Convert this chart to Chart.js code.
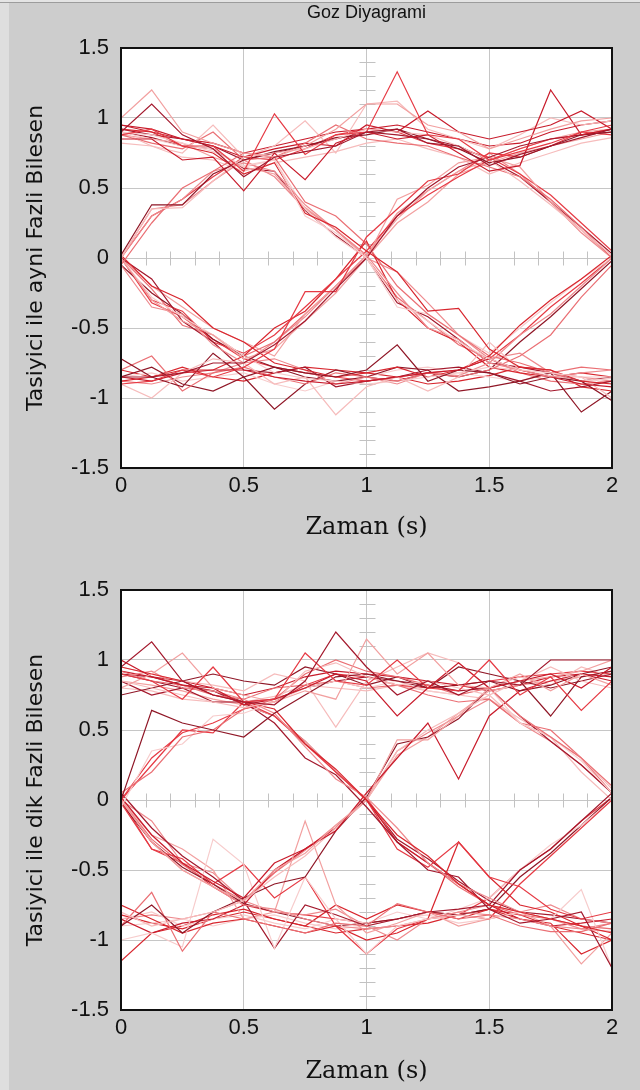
<!DOCTYPE html>
<html>
<head>
<meta charset="utf-8">
<script src="https://cdn.jsdelivr.net/npm/chart.js@4.4.1/dist/chart.umd.min.js"></script>
<style>
  html, body { margin: 0; padding: 0; width: 640px; height: 1090px; overflow: hidden; background: #cdcdcd; }
  .strip   { position: absolute; left: 0; top: 0; width: 9px; height: 1090px; background: #dedede; }
  .topline { position: absolute; left: 0; top: 0; width: 640px; height: 2px; background: #e4e4e4; border-bottom: 1px solid #9c9c9c; }
  .plot    { position: absolute; left: 0; width: 640px; }
  #p1 { top: 0; height: 542px; }
  #p2 { top: 542px; height: 548px; }
</style>
</head>
<body>
<div class="strip"></div>
<div class="topline"></div>
<canvas id="p1" class="plot" width="640" height="542"></canvas>
<canvas id="p2" class="plot" width="640" height="548"></canvas>
<script>
/* Eye diagram ("Goz Diyagrami"), two panels: in-phase and quadrature component */

// sample instants over two symbol periods (s)
const sampleTimes = [0, 0.125, 0.25, 0.375, 0.5, 0.625, 0.75, 0.875, 1,
                     1.125, 1.25, 1.375, 1.5, 1.625, 1.75, 1.875, 2];

const xTicks = [0, 0.5, 1, 1.5, 2];
const yTicks = [-1.5, -1, -0.5, 0, 0.5, 1, 1.5];

// in-phase traces (one row per sweep)
const inPhaseTraces = [
  [0.90, 1.10, 0.88, 0.78, 0.58, 0.72, 0.76, 0.80, 0.90, 0.92, 0.82, 0.80, 0.66, 0.74, 0.80, 0.86, 0.92],
  [0.88, 0.92, 0.80, 0.80, 0.62, 1.03, 0.74, 0.88, 0.90, 1.33, 0.88, 0.85, 0.70, 0.76, 0.82, 0.90, 0.95],
  [1.00, 1.20, 0.90, 0.82, 0.75, 0.72, 0.80, 0.92, 1.10, 1.10, 0.95, 0.90, 0.78, 0.85, 0.92, 0.98, 1.00],
  [0.85, 0.85, 0.70, 0.72, 0.48, 0.75, 0.56, 0.82, 0.90, 0.85, 0.88, 0.75, 0.62, 0.66, 1.20, 0.88, 0.92],
  [0.00, 0.35, 0.36, 0.55, 0.72, 0.75, 0.78, 0.85, 0.92, 0.90, 0.88, 0.80, 0.70, 0.55, 0.38, 0.20, 0.02],
  [0.02, 0.38, 0.38, 0.60, 0.70, 0.76, 0.80, 0.86, 0.88, 0.92, 0.85, 0.78, 0.68, 0.72, 0.80, 0.88, 0.90],
  [-0.05, 0.25, 0.50, 0.62, 0.75, 0.72, 0.82, 0.95, 0.85, 0.82, 0.80, 0.72, 0.65, 0.58, 0.42, 0.22, 0.00],
  [0.90, 0.88, 0.82, 0.76, 0.66, 0.70, 0.30, 0.18, 0.00, -0.30, -0.45, -0.60, -0.72, -0.80, -0.82, -0.85, -0.85],
  [0.92, 0.90, 0.80, 0.75, 0.60, 0.68, 0.32, 0.22, 0.05, -0.10, -0.38, -0.36, -0.65, -0.78, -0.80, -0.88, -0.90],
  [0.00, 0.30, 0.42, 0.62, 0.68, 0.62, 0.38, 0.20, 0.02, -0.25, -0.50, -0.58, -0.75, -0.80, -0.85, -0.82, -0.80],
  [-0.85, -0.85, -0.82, -0.75, -0.75, -0.62, -0.45, -0.22, 0.00, 0.30, 0.50, 0.65, 0.72, 0.80, 0.85, 0.88, 0.90],
  [-0.90, -0.88, -0.80, -0.85, -0.78, -0.65, -0.24, -0.24, 0.15, 0.35, 0.55, 0.60, 0.75, 0.72, 0.80, 0.90, 0.88],
  [0.00, -0.30, -0.45, -0.55, -0.72, -0.65, -0.45, -0.25, 0.00, 0.42, 0.52, 0.68, 0.72, 0.65, 0.40, 0.20, 0.00],
  [-0.85, -0.88, -0.82, -0.80, -0.80, -0.85, -0.88, -0.90, -0.88, -0.85, -0.82, -0.80, -0.72, -0.80, -0.85, -0.90, -0.92],
  [-0.90, -1.00, -0.82, -0.72, -0.75, -0.90, -0.85, -1.12, -0.92, -0.85, -0.95, -0.85, -0.60, -0.80, -0.85, -0.85, -1.00],
  [-0.72, -0.85, -0.92, -0.68, -0.85, -0.78, -0.82, -0.85, -0.80, -0.62, -0.88, -0.80, -0.82, -0.90, -0.85, -0.88, -1.02],
  [-0.80, -0.70, -0.95, -0.82, -0.78, -0.85, -0.90, -0.82, -0.85, -0.88, -0.82, -0.85, -0.80, -0.70, -0.55, -0.28, -0.05],
  [0.00, -0.28, -0.42, -0.55, -0.70, -0.82, -0.86, -0.88, -0.90, -0.88, -0.85, -0.82, -0.78, -0.80, -0.84, -0.88, -0.86],
  [0.02, -0.20, -0.30, -0.50, -0.60, -0.75, -0.80, -0.85, -0.82, -0.78, -0.85, -0.80, -0.70, -0.48, -0.30, -0.15, 0.02],
  [-0.05, -0.35, -0.40, -0.62, -0.75, -0.72, -0.80, -0.90, -0.85, -0.90, -0.82, -0.84, -0.75, -0.55, -0.40, -0.20, 0.00],
  [0.00, -0.15, -0.45, -0.60, -0.80, -0.82, -0.78, -0.92, -0.88, -0.85, -0.80, -0.78, -0.82, -0.88, -0.95, -0.92, -0.88],
  [0.00, -0.30, -0.38, -0.60, -0.68, -0.55, -0.35, -0.15, 0.05, 0.30, 0.45, 0.58, 0.70, 0.78, 0.85, 0.88, 0.92],
  [0.00, -0.20, -0.35, -0.50, -0.60, -0.70, -0.40, -0.20, 0.00, 0.25, 0.40, 0.60, 0.68, 0.75, 0.80, 0.85, 0.90],
  [0.95, 0.90, 0.85, 0.80, 0.72, 0.78, 0.82, 0.80, 0.95, 0.90, 1.05, 0.90, 0.85, 0.90, 0.95, 1.05, 0.92],
  [0.90, 0.80, 0.75, 0.95, 0.72, 0.80, 0.98, 0.75, 1.10, 1.12, 0.92, 0.85, 0.78, 0.88, 1.00, 0.95, 0.98],
  [-0.85, -0.78, -0.90, -0.95, -0.85, -1.08, -0.90, -0.80, -0.85, -0.78, -0.80, -0.95, -0.92, -0.88, -0.82, -1.10, -0.95],
  [0.88, 0.82, 0.78, 0.90, 0.70, 0.72, 0.40, 0.30, 0.10, -0.20, -0.40, -0.55, -0.70, -0.75, -0.82, -0.78, -0.80],
  [0.90, 0.85, 0.80, 0.78, 0.65, 0.70, 0.35, 0.15, 0.00, -0.35, -0.40, -0.55, -0.68, -0.50, -0.32, -0.15, 0.00],
  [-0.88, -0.85, -0.80, -0.80, -0.70, -0.50, -0.38, -0.15, 0.12, -0.30, -0.50, -0.60, -0.78, -0.82, -0.85, -0.82, -0.85],
  [0.00, 0.35, 0.38, 0.55, 0.70, 0.58, 0.35, 0.20, 0.00, -0.10, -0.32, -0.55, -0.72, -0.68, -0.82, -0.85, -0.88],
  [0.92, 0.88, 0.85, 0.80, 0.70, 0.75, 0.80, 0.85, 0.90, 0.88, 0.85, 0.80, 0.70, 0.58, 0.40, 0.22, 0.03],
  [0.00, 0.30, 0.42, 0.58, 0.72, 0.70, 0.78, 0.88, 0.92, 0.90, 0.82, 0.78, 0.72, 0.60, 0.45, 0.25, 0.05],
  [0.88, 0.85, 0.82, 0.72, 0.65, 0.60, 0.36, 0.20, 0.02, 0.28, 0.48, 0.62, 0.70, 0.78, 0.85, 0.90, 0.92],
  [0.95, 0.92, 0.85, 0.82, 0.75, 0.80, 0.85, 0.90, 0.92, 0.95, 0.90, 0.85, 0.80, 0.82, 0.90, 0.95, 0.98],
  [0.82, 0.80, 0.72, 0.70, 0.62, 0.68, 0.72, 0.76, 0.82, 0.85, 0.78, 0.72, 0.60, 0.68, 0.75, 0.82, 0.86],
  [-0.05, -0.25, -0.40, -0.58, -0.70, -0.78, -0.85, -0.88, -0.85, -0.88, -0.82, -0.85, -0.80, -0.60, -0.42, -0.22, -0.02],
  [0.00, -0.22, -0.48, -0.55, -0.70, -0.60, -0.40, -0.20, 0.00, -0.28, -0.45, -0.62, -0.72, -0.82, -0.88, -0.90, -0.88],
  [-0.85, -0.82, -0.88, -0.85, -0.82, -0.90, -0.95, -0.88, -0.85, -0.80, -0.78, -0.82, -0.85, -0.88, -0.82, -0.85, -0.90],
  [-0.80, -0.85, -0.78, -0.85, -0.88, -0.82, -0.78, -0.80, -0.82, -0.85, -0.90, -0.88, -0.84, -0.78, -0.80, -0.92, -0.95],
  [-0.88, -0.90, -0.85, -0.82, -0.75, -0.60, -0.42, -0.20, 0.02, 0.32, 0.48, 0.62, 0.75, 0.60, 0.40, 0.18, 0.00],
  [0.90, 0.86, 0.80, 0.78, 0.64, 0.62, 0.34, 0.16, 0.00, -0.32, -0.42, -0.58, -0.75, -0.78, -0.82, -0.88, -0.85],
  [0.00, -0.32, -0.42, -0.58, -0.72, -0.78, -0.82, -0.85, -0.88, -0.85, -0.82, -0.80, -0.72, -0.55, -0.35, -0.18, 0.00]
];

// quadrature traces
const quadratureTraces = [
  [0.95, 1.13, 0.85, 0.75, 0.70, 0.68, 0.85, 1.20, 0.95, 0.75, 0.85, 0.75, 0.85, 0.82, 1.00, 1.00, 1.00],
  [0.90, 0.85, 0.72, 0.95, 0.70, 0.72, 1.05, 0.85, 0.82, 1.00, 0.80, 0.78, 1.00, 0.75, 0.88, 0.64, 0.85],
  [0.80, 0.90, 1.05, 0.80, 0.75, 0.70, 0.78, 0.72, 1.15, 0.90, 1.05, 0.82, 0.80, 0.90, 0.78, 0.90, 0.82],
  [1.00, 0.88, 0.82, 0.80, 0.68, 0.72, 0.80, 0.90, 0.85, 0.60, 0.80, 0.98, 0.80, 0.85, 0.90, 0.80, 0.95],
  [0.85, 0.80, 0.75, 0.70, 0.66, 0.70, 0.92, 0.98, 0.88, 0.82, 0.85, 0.80, 0.75, 0.85, 0.95, 0.85, 0.80],
  [0.00, 0.64, 0.55, 0.50, 0.45, 0.62, 0.75, 0.88, 0.90, 0.85, 0.80, 0.82, 0.85, 0.78, 0.82, 0.90, 0.95],
  [0.05, 0.20, 0.45, 0.50, 0.65, 0.72, 0.90, 1.00, 0.92, 0.88, 0.82, 0.75, 0.80, 0.60, 0.45, 0.30, 0.10],
  [-0.05, 0.35, 0.40, 0.60, 0.62, 0.70, 0.80, 0.85, 0.80, 0.85, 0.78, 0.75, 0.80, 0.55, 0.45, 0.28, 0.05],
  [0.95, 0.90, 0.85, 0.75, 0.70, 0.65, 0.40, 0.22, 0.00, -0.25, -0.40, -0.60, -0.75, -0.80, -0.85, -0.90, -0.95],
  [0.88, 0.92, 0.80, 0.78, 0.72, 0.62, 0.38, 0.15, 0.02, -0.20, -0.45, -0.60, -0.70, -0.80, -0.85, -0.92, -0.94],
  [0.85, 0.75, 0.80, 0.70, 0.70, 0.55, 0.30, 0.18, -0.05, -0.30, -0.50, -0.55, -0.78, -0.88, -0.85, -0.80, -1.20],
  [0.00, 0.25, 0.50, 0.48, 0.70, 0.60, 0.40, 0.20, 0.00, -0.35, -0.48, -0.30, -0.55, -0.62, -0.78, -0.85, -0.80],
  [0.00, -0.30, -0.50, -0.62, -0.72, -0.50, -0.38, -0.18, 0.00, 0.43, 0.43, 0.60, 0.80, 0.85, 0.88, 0.92, 1.00],
  [0.02, -0.25, -0.45, -0.58, -0.70, -0.45, -0.35, -0.22, 0.05, 0.30, 0.55, 0.15, 0.60, 0.78, 0.85, 0.90, 0.88],
  [-0.80, -0.90, -0.85, -0.80, -0.72, -0.55, -0.40, -0.20, 0.00, 0.35, 0.50, 0.62, 0.75, 0.55, 0.45, 0.30, 0.08],
  [-0.90, -0.75, -0.95, -0.80, -0.70, -0.60, -0.55, -0.22, 0.02, 0.40, 0.45, 0.58, 0.80, 0.85, 0.80, 0.85, 0.90],
  [-0.90, -0.66, -1.08, -0.80, -0.85, -0.90, -0.95, -0.88, -0.90, -0.74, -0.80, -0.85, -0.82, -0.90, -0.94, -0.94, -0.88],
  [-1.00, -0.95, -1.05, -0.28, -0.46, -1.06, -0.55, -0.85, -1.10, -0.90, -0.85, -0.82, -0.85, -0.80, -0.85, -0.64, -1.20],
  [-0.75, -0.85, -0.95, -0.88, -0.85, -0.90, -0.95, -0.90, -1.00, -0.95, -0.85, -0.30, -0.55, -0.75, -0.80, -0.90, -1.00],
  [0.00, -0.30, -0.50, -0.62, -0.75, -0.78, -0.85, -0.90, -0.92, -0.90, -0.85, -0.80, -0.82, -0.85, -0.90, -0.92, -0.88],
  [0.05, -0.20, -0.40, -0.55, -0.72, -1.06, -0.75, -0.82, -0.90, -0.85, -0.80, -0.78, -0.75, -0.50, -0.35, -0.15, 0.05],
  [-0.02, -0.35, -0.42, -0.60, -0.46, -0.70, -0.55, -0.90, -1.10, -0.92, -0.85, -0.82, -0.85, -0.60, -0.40, -0.20, 0.00],
  [0.00, -0.25, -0.35, -0.50, -0.85, -0.80, -0.15, -0.75, -0.95, -0.88, -0.80, -0.90, -0.85, -0.80, -0.90, -1.17, -0.95],
  [-0.85, -0.95, -0.88, -0.85, -0.75, -0.50, -0.35, -0.20, 0.00, -0.30, -0.45, -0.60, -0.75, -0.85, -0.90, -0.88, -0.85],
  [0.95, 0.90, 0.85, 0.82, 0.78, 0.90, 0.85, 0.52, 0.85, 0.95, 1.05, 0.98, 0.80, 0.88, 0.82, 0.95, 0.88],
  [0.75, 0.80, 0.85, 0.90, 0.85, 0.82, 0.95, 0.90, 0.82, 0.88, 0.80, 0.95, 0.90, 0.85, 0.60, 0.88, 0.92],
  [0.92, 0.85, 0.82, 0.75, 0.72, 0.80, 0.82, 0.85, 0.80, 0.82, 0.75, 0.70, 0.72, 0.55, 0.50, 0.30, 0.05],
  [-0.85, -0.80, -0.90, -0.85, -0.82, -0.88, -0.92, -0.85, -0.88, -0.80, -0.85, -0.78, -0.70, -0.50, -0.32, -0.18, 0.00],
  [-1.15, -0.95, -0.90, -0.82, -0.78, -0.85, -0.90, -0.75, -0.85, -0.75, -0.80, -0.85, -0.78, -0.85, -0.88, -1.10, -1.00],
  [0.00, -0.15, -0.45, -0.52, -0.72, -0.80, -0.82, -0.78, -0.90, -1.00, -0.85, -0.80, -0.75, -0.80, -0.75, -0.85, -0.88],
  [0.90, 0.85, 0.80, 0.78, 0.70, 0.72, 0.80, 0.85, 0.88, 0.85, 0.82, 0.78, 0.80, 0.60, 0.42, 0.25, 0.05],
  [0.00, 0.30, 0.48, 0.55, 0.65, 0.70, 0.82, 0.90, 0.88, 0.82, 0.80, 0.82, 0.85, 0.88, 0.90, 0.92, 0.90],
  [0.85, 0.82, 0.78, 0.72, 0.68, 0.60, 0.42, 0.20, 0.00, 0.32, 0.45, 0.62, 0.78, 0.82, 0.85, 0.88, 0.92],
  [0.92, 0.88, 0.85, 0.80, 0.75, 0.80, 0.88, 0.92, 0.90, 0.88, 0.85, 0.82, 0.78, 0.82, 0.88, 0.90, 0.85],
  [0.80, 0.78, 0.72, 0.70, 0.70, 0.74, 0.82, 0.80, 0.78, 0.82, 0.78, 0.75, 0.72, 0.58, 0.45, 0.20, 0.00],
  [-0.02, -0.30, -0.48, -0.60, -0.74, -0.80, -0.85, -0.90, -0.88, -0.85, -0.80, -0.82, -0.78, -0.55, -0.38, -0.18, 0.02],
  [0.00, -0.28, -0.46, -0.60, -0.72, -0.52, -0.35, -0.20, 0.02, -0.30, -0.45, -0.62, -0.75, -0.82, -0.85, -0.90, -0.92],
  [-0.90, -0.88, -0.85, -0.90, -0.85, -0.82, -0.88, -0.92, -0.90, -0.85, -0.82, -0.88, -0.85, -0.80, -0.85, -0.90, -0.92],
  [-0.82, -0.88, -0.92, -0.85, -0.80, -0.85, -0.90, -0.95, -0.92, -0.90, -0.88, -0.82, -0.78, -0.82, -0.90, -0.95, -1.00],
  [-0.85, -0.82, -0.85, -0.80, -0.72, -0.52, -0.36, -0.18, 0.00, 0.35, 0.48, 0.60, 0.72, 0.55, 0.42, 0.25, 0.05],
  [0.90, 0.88, 0.82, 0.78, 0.68, 0.60, 0.42, 0.20, 0.00, -0.28, -0.42, -0.58, -0.72, -0.80, -0.82, -0.85, -0.88],
  [0.00, -0.35, -0.45, -0.62, -0.75, -0.80, -0.82, -0.85, -0.88, -0.85, -0.80, -0.82, -0.70, -0.50, -0.35, -0.15, 0.02]
];

// trace shades, cycled
const traceColors = ['#a3182c', '#e63a44', '#f2a0a0', '#c81b2b', '#f6bcbc',
                     '#8f1626', '#ea6f74', '#f7cccc', '#d8262e', '#ee8a8e'];

const SANS  = "'Liberation Sans', Arial, sans-serif";
const WIDE  = "'DejaVu Sans', Verdana, sans-serif";
const SERIF = "'DejaVu Serif', 'Times New Roman', serif";

// white plot box, crosshair minor ticks under the traces, black box over them
const eyeFrame = {
  id: 'eyeFrame',
  beforeDraw(chart) {
    const { ctx, chartArea: a } = chart;
    ctx.save();
    ctx.fillStyle = '#ffffff';
    ctx.fillRect(a.left, a.top, a.right - a.left, a.bottom - a.top);
    ctx.restore();
  },
  beforeDatasetsDraw(chart) {
    const { ctx, scales: { x, y } } = chart;
    const y0 = Math.round(y.getPixelForValue(0)) + 0.5;
    const x1 = Math.round(x.getPixelForValue(1)) + 0.5;
    ctx.save();
    ctx.strokeStyle = '#c2c2c2';
    ctx.lineWidth = 1;
    ctx.beginPath();
    for (let k = 1; k < 20; k++) {
      if (k % 5 === 0) continue;
      const px = Math.round(x.getPixelForValue(k / 10)) + 0.5;
      ctx.moveTo(px, y0 - 7); ctx.lineTo(px, y0 + 7);
    }
    for (let k = -14; k <= 14; k++) {
      if (k % 5 === 0) continue;
      const py = Math.round(y.getPixelForValue(k / 10)) + 0.5;
      ctx.moveTo(x1 - 8, py); ctx.lineTo(x1 + 8, py);
    }
    ctx.stroke();
    ctx.restore();
  },
  afterDatasetsDraw(chart) {
    const { ctx, chartArea: a } = chart;
    ctx.save();
    ctx.strokeStyle = '#111';
    ctx.lineWidth = 2;
    ctx.strokeRect(a.left, a.top, a.right - a.left, a.bottom - a.top);
    ctx.restore();
  }
};

function renderEye(canvasId, traces, yTitle, withTitle, xTitlePad) {
  const canvas = document.getElementById(canvasId);
  const datasets = traces.map((vals, i) => ({
    data: vals.map((v, k) => ({ x: sampleTimes[k], y: v })),
    borderColor: traceColors[i % traceColors.length],
    borderWidth: 1.2, pointRadius: 0, tension: 0, fill: false,
  }));

  return new Chart(canvas, {
    type: 'line',
    data: { datasets },
    options: {
      responsive: false, animation: false, events: [],
      layout: { padding: { left: 0, right: 28, top: withTitle ? 0 : 48, bottom: 0 } },
      plugins: {
        legend: { display: false }, tooltip: { enabled: false },
        title: {
          display: withTitle, text: 'Goz Diyagrami', fullSize: false,
          color: '#111', font: { family: SANS, size: 18, weight: 'normal' },
          padding: { top: 2, bottom: 24.4 }
        }
      },
      scales: {
        x: {
          type: 'linear', min: 0, max: 2,
          afterBuildTicks: s => { s.ticks = xTicks.map(v => ({ value: v })); },
          afterFit: s => { s.height = canvas.height - 468; },
          grid: { color: '#c6c6c6', drawTicks: false },
          border: { display: false },
          ticks: { padding: 5, color: '#111', font: { family: SANS, size: 22 },
                   callback: v => String(v) },
          title: { display: true, text: 'Zaman (s)', color: '#111',
                   font: { family: SERIF, size: 24 }, padding: { top: 0, bottom: xTitlePad } }
        },
        y: {
          type: 'linear', min: -1.5, max: 1.5,
          afterBuildTicks: s => { s.ticks = yTicks.map(v => ({ value: v })); },
          afterFit: s => { s.width = 121; },
          grid: { color: '#c6c6c6', drawTicks: false },
          border: { display: false },
          ticks: { padding: 12, color: '#111', font: { family: SANS, size: 22 },
                   callback: v => String(v) },
          title: { display: true, text: yTitle, color: '#111',
                   font: { family: WIDE, size: 22 }, padding: { top: 23, bottom: 0 } }
        }
      }
    },
    plugins: [eyeFrame]
  });
}

renderEye('p1', inPhaseTraces,    'Tasiyici ile ayni Fazli Bilesen', true,  0);
renderEye('p2', quadratureTraces, 'Tasiyici ile dik Fazli Bilesen',  false, 4);
</script>
</body>
</html>
